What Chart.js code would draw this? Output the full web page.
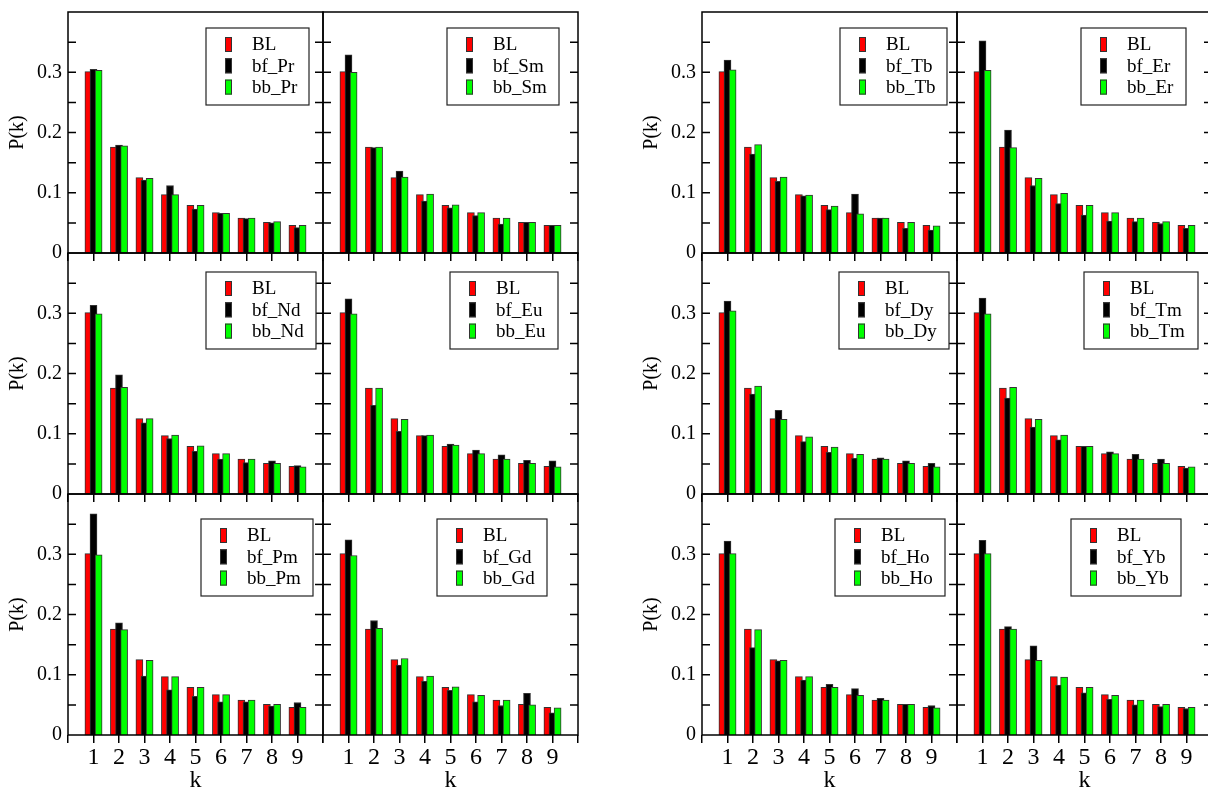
<!DOCTYPE html>
<html>
<head>
<meta charset="utf-8">
<script src="https://cdn.jsdelivr.net/npm/chart.js@4.4.0/dist/chart.umd.min.js"></script>
<style>
body { margin: 0; background: #fff; overflow: hidden; }
#wrap { position: relative; width: 1208px; height: 791px; overflow: hidden; }
canvas { position: absolute; }
</style>
</head>
<body>
<div id="wrap"></div>
<script>
// k values and the BL reference distribution
var k = [1, 2, 3, 4, 5, 6, 7, 8, 9];
var BL = [0.301, 0.176, 0.125, 0.097, 0.079, 0.067, 0.058, 0.051, 0.046];

var bf_Pr = [0.305, 0.179, 0.121, 0.112, 0.073, 0.066, 0.057, 0.050, 0.042];
var bb_Pr = [0.303, 0.178, 0.124, 0.097, 0.079, 0.066, 0.058, 0.052, 0.046];
var bf_Sm = [0.329, 0.175, 0.136, 0.086, 0.075, 0.062, 0.048, 0.051, 0.046];
var bb_Sm = [0.300, 0.176, 0.126, 0.098, 0.080, 0.067, 0.058, 0.051, 0.046];
var bf_Nd = [0.313, 0.198, 0.118, 0.092, 0.071, 0.058, 0.052, 0.055, 0.047];
var bb_Nd = [0.299, 0.177, 0.125, 0.098, 0.080, 0.067, 0.058, 0.051, 0.045];
var bf_Eu = [0.324, 0.147, 0.104, 0.097, 0.083, 0.073, 0.065, 0.056, 0.055];
var bb_Eu = [0.299, 0.176, 0.124, 0.098, 0.081, 0.067, 0.058, 0.051, 0.045];
var bf_Pm = [0.367, 0.186, 0.098, 0.075, 0.064, 0.055, 0.055, 0.048, 0.054];
var bb_Pm = [0.299, 0.175, 0.124, 0.097, 0.079, 0.067, 0.058, 0.051, 0.046];
var bf_Gd = [0.324, 0.190, 0.116, 0.089, 0.074, 0.055, 0.049, 0.069, 0.037];
var bb_Gd = [0.298, 0.177, 0.127, 0.098, 0.080, 0.066, 0.058, 0.050, 0.045];
var bf_Tb = [0.320, 0.164, 0.119, 0.095, 0.072, 0.098, 0.058, 0.041, 0.038];
var bb_Tb = [0.304, 0.180, 0.126, 0.096, 0.078, 0.065, 0.058, 0.051, 0.045];
var bf_Er = [0.352, 0.204, 0.112, 0.082, 0.063, 0.053, 0.052, 0.049, 0.041];
var bb_Er = [0.303, 0.175, 0.124, 0.099, 0.079, 0.067, 0.058, 0.052, 0.046];
var bf_Dy = [0.320, 0.166, 0.139, 0.087, 0.069, 0.059, 0.060, 0.055, 0.051];
var bb_Dy = [0.304, 0.179, 0.124, 0.095, 0.078, 0.066, 0.058, 0.051, 0.045];
var bf_Tm = [0.325, 0.159, 0.111, 0.090, 0.079, 0.070, 0.066, 0.058, 0.043];
var bb_Tm = [0.299, 0.177, 0.124, 0.098, 0.079, 0.067, 0.058, 0.051, 0.045];
var bf_Ho = [0.322, 0.145, 0.123, 0.091, 0.084, 0.077, 0.061, 0.051, 0.049];
var bb_Ho = [0.301, 0.175, 0.124, 0.097, 0.079, 0.066, 0.058, 0.051, 0.045];
var bf_Yb = [0.323, 0.180, 0.148, 0.083, 0.070, 0.059, 0.050, 0.047, 0.044];
var bb_Yb = [0.301, 0.176, 0.124, 0.096, 0.079, 0.066, 0.058, 0.051, 0.046];

var yTickLabels = ['0', '0.1', '0.2', '0.3'];

var panels = [
    {name: 'Pr', bf: bf_Pr, bb: bb_Pr, col: 0, row: 0, leg: [138, 103]},
    {name: 'Sm', bf: bf_Sm, bb: bb_Sm, col: 1, row: 0, leg: [124, 112]},
    {name: 'Nd', bf: bf_Nd, bb: bb_Nd, col: 0, row: 1, leg: [138, 110]},
    {name: 'Eu', bf: bf_Eu, bb: bb_Eu, col: 1, row: 1, leg: [127, 108]},
    {name: 'Pm', bf: bf_Pm, bb: bb_Pm, col: 0, row: 2, leg: [133, 112]},
    {name: 'Gd', bf: bf_Gd, bb: bb_Gd, col: 1, row: 2, leg: [114, 110]},
    {name: 'Tb', bf: bf_Tb, bb: bb_Tb, col: 2, row: 0, leg: [138, 107]},
    {name: 'Er', bf: bf_Er, bb: bb_Er, col: 3, row: 0, leg: [124, 105]},
    {name: 'Dy', bf: bf_Dy, bb: bb_Dy, col: 2, row: 1, leg: [137, 110]},
    {name: 'Tm', bf: bf_Tm, bb: bb_Tm, col: 3, row: 1, leg: [127, 114]},
    {name: 'Ho', bf: bf_Ho, bb: bb_Ho, col: 2, row: 2, leg: [133, 110]},
    {name: 'Yb', bf: bf_Yb, bb: bb_Yb, col: 3, row: 2, leg: [114, 110]}
];

var colLeft = [68, 323, 702, 957];
var rowTop = [12, 253, 494];
var legTop = [16, 19, 25];
var PW = 255, PH = 241, ML = 68, MT = 10, MR = 10, MB = 60;
var serif = '"Liberation Serif", "Times New Roman", serif';

var RED = '#ff0000', BLACK = '#000000', GREEN = '#00ff00', EDGE = '#333333';

var framePlugin = {
    id: 'frame',
    afterDatasetsDraw: function (chart) {
        var a = chart.chartArea, c = chart.ctx, ys = chart.scales.y;
        c.save();
        c.strokeStyle = '#000';
        c.lineWidth = 1.5;
        c.strokeRect(a.left, a.top, a.right - a.left, a.bottom - a.top);
        for (var i = 1; i < 8; i++) {
            var py = ys.getPixelForValue(i * 0.05);
            c.beginPath();
            c.moveTo(a.left, py); c.lineTo(a.left + 8, py);
            c.moveTo(a.right, py); c.lineTo(a.right - 8, py);
            c.stroke();
        }
        c.restore();
    }
};

var legendPlugin = {
    id: 'boxlegend',
    afterDraw: function (chart) {
        var p = chart.options.plugins.boxlegend;
        if (!p) return;
        var a = chart.chartArea, c = chart.ctx;
        var x0 = a.left + p.left, y0 = a.top + p.top, w = p.width, h = 77;
        c.save();
        c.fillStyle = '#fff';
        c.fillRect(x0, y0, w, h);
        c.strokeStyle = '#222';
        c.lineWidth = 1.2;
        c.strokeRect(x0, y0, w, h);
        var rows = [[p.labels[0], RED], [p.labels[1], BLACK], [p.labels[2], GREEN]];
        c.font = '19px ' + serif;
        c.textBaseline = 'middle';
        for (var i = 0; i < rows.length; i++) {
            var cy = y0 + 16.5 + i * 21.3;
            c.fillStyle = rows[i][1];
            c.fillRect(x0 + 19, cy - 7.5, 7, 15);
            c.strokeStyle = EDGE;
            c.lineWidth = 1;
            c.strokeRect(x0 + 19.5, cy - 7, 6, 14);
            c.fillStyle = '#000';
            c.fillText(rows[i][0], x0 + 46, cy + 1);
        }
        c.restore();
    }
};

function points(vals, off) {
    return k.map(function (kk, i) { return {x: kk + off, y: vals[i]}; });
}

// keep every panel's plot area the same size, whatever labels it shows
function fixX(s) { s.height = MB; s.paddingLeft = 0; s.paddingRight = 0; }
function fixY(s) { s.width = ML; s.paddingTop = 0; s.paddingBottom = 0; }

var wrap = document.getElementById('wrap');

panels.forEach(function (p) {
    var cv = document.createElement('canvas');
    cv.width = ML + PW + MR;
    cv.height = MT + PH + MB;
    cv.style.left = (colLeft[p.col] - ML) + 'px';
    cv.style.top = (rowTop[p.row] - MT) + 'px';
    wrap.appendChild(cv);

    var firstCol = (p.col === 0 || p.col === 2);
    var bottomRow = (p.row === 2);
    var barOpts = {borderColor: EDGE, borderWidth: 1, barThickness: 7, grouped: false};

    new Chart(cv.getContext('2d'), {
        type: 'bar',
        data: {
            datasets: [
                Object.assign({label: 'bb_' + p.name, data: points(p.bb, 0.2), backgroundColor: GREEN}, barOpts),
                Object.assign({label: 'bf_' + p.name, data: points(p.bf, 0), backgroundColor: BLACK}, barOpts),
                Object.assign({label: 'BL', data: points(BL, -0.2), backgroundColor: RED}, barOpts)
            ]
        },
        options: {
            responsive: false,
            animation: false,
            devicePixelRatio: 1,
            layout: {padding: {left: 0, top: MT, right: MR, bottom: 0}},
            plugins: {
                legend: {display: false},
                tooltip: {enabled: false},
                boxlegend: {left: p.leg[0], width: p.leg[1], top: legTop[p.row],
                            labels: ['BL', 'bf_' + p.name, 'bb_' + p.name]}
            },
            scales: {
                x: {
                    type: 'linear', min: 0, max: 10, offset: false,
                    afterFit: fixX,
                    grid: {display: true, offset: false, drawOnChartArea: false, drawTicks: true,
                           tickLength: 8, color: '#000', lineWidth: 1.5},
                    border: {display: false},
                    ticks: {
                        display: bottomRow, stepSize: 1, autoSkip: false, maxRotation: 0, padding: 0,
                        color: '#000', font: {family: serif, size: 24},
                        callback: function (v) { return (v >= 1 && v <= 9) ? String(v) : ''; }
                    },
                    title: {display: bottomRow, text: 'k', color: '#000',
                            font: {family: serif, size: 24}, padding: {top: 0, bottom: 0}}
                },
                y: {
                    min: 0, max: 0.4,
                    afterFit: fixY,
                    grid: {display: false, drawTicks: false},
                    border: {display: false},
                    ticks: {
                        display: firstCol, stepSize: 0.1, padding: 6, color: '#000',
                        font: {family: serif, size: 20},
                        callback: function (v) {
                            var i = Math.round(v * 10);
                            return i < yTickLabels.length ? yTickLabels[i] : null;
                        }
                    },
                    title: {display: firstCol, text: 'P(k)', color: '#000',
                            font: {family: serif, size: 20}, padding: {top: 6, bottom: 0}}
                }
            }
        },
        plugins: [framePlugin, legendPlugin]
    });
});
</script>
</body>
</html>
